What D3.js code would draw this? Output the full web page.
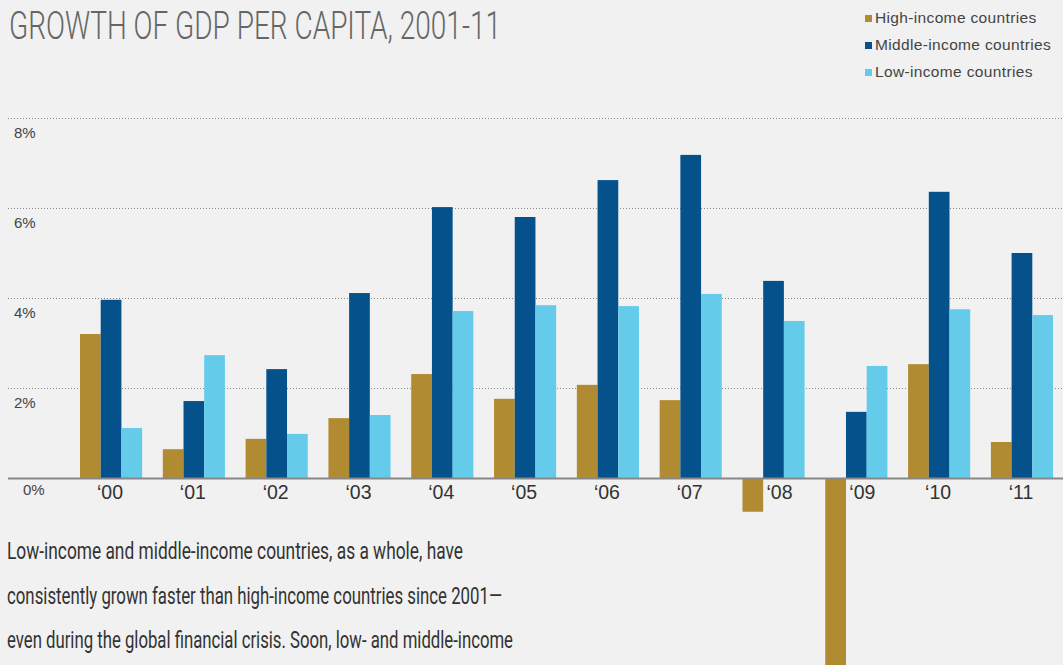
<!DOCTYPE html>
<html>
<head>
<meta charset="utf-8">
<script src="https://cdn.jsdelivr.net/npm/d3@7"></script>
<style>
  body { margin: 0; background: #f0f1f0; }
  svg { display: block; }
</style>
</head>
<body>
<svg id="chart" width="1063" height="665"></svg>
<script>
const years = ["'00", "'01", "'02", "'03", "'04", "'05", "'06", "'07", "'08", "'09", "'10", "'11"];
const seriesNames = ["High-income countries", "Middle-income countries", "Low-income countries"];
const highIncome   = [3.20, 0.64, 0.87, 1.33, 2.31, 1.76, 2.07, 1.73, -0.75, -4.40, 2.53, 0.80];
const middleIncome = [3.96, 1.71, 2.42, 4.11, 6.02, 5.80, 6.62, 7.18, 4.38, 1.47, 6.36, 5.00];
const lowIncome    = [1.11, 2.73, 0.98, 1.40, 3.71, 3.84, 3.82, 4.09, 3.49, 2.49, 3.75, 3.62];
const yTicks = [2, 4, 6, 8];
const yTickLabels = ["2%", "4%", "6%", "8%"];
const titleText = "GROWTH OF GDP PER CAPITA, 2001-11";
const bodyLines = [
  "Low-income and middle-income countries, as a whole, have",
  "consistently grown faster than high-income countries since 2001\u2014",
  "even during the global financial crisis. Soon, low- and middle-income"
];

const colors = ["#b08b31", "#04518b", "#64cbea"];
const seriesValues = [highIncome, middleIncome, lowIncome];

const svg = d3.select("#chart");
svg.append("rect").attr("width", 1063).attr("height", 665).attr("fill", "#f0f1f0");

const y = d3.scaleLinear().domain([0, 8]).range([478, 118]);
const x = d3.scaleBand().domain(years).range([80, 1053]).paddingInner(0.25).paddingOuter(0);
const xs = d3.scaleBand().domain(d3.range(3)).range([0, x.bandwidth()]);

// gridlines
const grid = svg.append("g");
grid.selectAll("line").data(yTicks).join("line")
  .attr("x1", 8).attr("x2", 1063)
  .attr("y1", d => Math.round(y(d)) + 0.5).attr("y2", d => Math.round(y(d)) + 0.5)
  .attr("stroke", "#8a8a8a").attr("stroke-width", 1.2).attr("stroke-dasharray", "1,2");

grid.selectAll("text").data(yTicks).join("text")
  .attr("x", 14).attr("y", d => y(d) + 20)
  .attr("font-family", "Liberation Sans, Arial, sans-serif")
  .attr("font-size", 15).attr("fill", "#444")
  .text((d, i) => yTickLabels[i]);

svg.append("text").attr("x", 23).attr("y", y(0) + 17)
  .attr("font-family", "Liberation Sans, Arial, sans-serif")
  .attr("font-size", 15).attr("fill", "#444").text("0%");

// bars
const groups = svg.append("g").selectAll("g").data(years).join("g")
  .attr("transform", d => `translate(${x(d)},0)`);
groups.selectAll("rect").data((d, i) => seriesValues.map((s, k) => ({k, v: s[i]}))).join("rect")
  .attr("x", d => xs(d.k)).attr("width", xs.bandwidth())
  .attr("y", d => Math.min(y(d.v), y(0)))
  .attr("height", d => Math.abs(y(d.v) - y(0)))
  .attr("fill", d => colors[d.k]);

// zero axis line
svg.append("line").attr("x1", 8).attr("x2", 1063)
  .attr("y1", y(0) + 0.5).attr("y2", y(0) + 0.5)
  .attr("stroke", "#888").attr("stroke-width", 2);

// x labels
svg.append("g").selectAll("text").data(years).join("text")
  .attr("x", (d, i) => x(d) + x.bandwidth() / 2 - 1 + (highIncome[i] < 0 ? 7 : 0))
  .attr("y", 499)
  .attr("text-anchor", "middle")
  .attr("font-family", "Liberation Sans, Arial, sans-serif")
  .attr("font-size", 19.5).attr("fill", "#333")
  .text(d => d.replace("'", "\u2018"));

// title
svg.append("text").attr("x", 9).attr("y", 39)
  .attr("font-family", "Roboto, sans-serif").attr("font-weight", 300)
  .attr("font-size", 38).attr("fill", "#666")
  .attr("textLength", 492).attr("lengthAdjust", "spacingAndGlyphs")
  .text(titleText);

// legend
const legend = svg.append("g").selectAll("g").data(seriesNames).join("g")
  .attr("transform", (d, i) => `translate(865,${23 + i * 27})`);
legend.append("rect").attr("x", 0).attr("y", -8).attr("width", 7).attr("height", 7)
  .attr("fill", (d, i) => colors[i]);
legend.append("text").attr("x", 10).attr("y", 0)
  .attr("font-family", "Liberation Sans, Arial, sans-serif")
  .attr("font-size", 15.5).attr("letter-spacing", 0.35).attr("fill", "#444")
  .text(d => d);

// body text
const bodyWidths = [456, 495, 506];
svg.append("g").selectAll("text").data(bodyLines).join("text")
  .attr("x", 7).attr("y", (d, i) => 559 + i * 44.5)
  .attr("font-family", "Roboto, sans-serif").attr("font-weight", 400)
  .attr("font-size", 24).attr("fill", "#333")
  .attr("textLength", (d, i) => bodyWidths[i]).attr("lengthAdjust", "spacingAndGlyphs")
  .text(d => d);
</script>
</body>
</html>
